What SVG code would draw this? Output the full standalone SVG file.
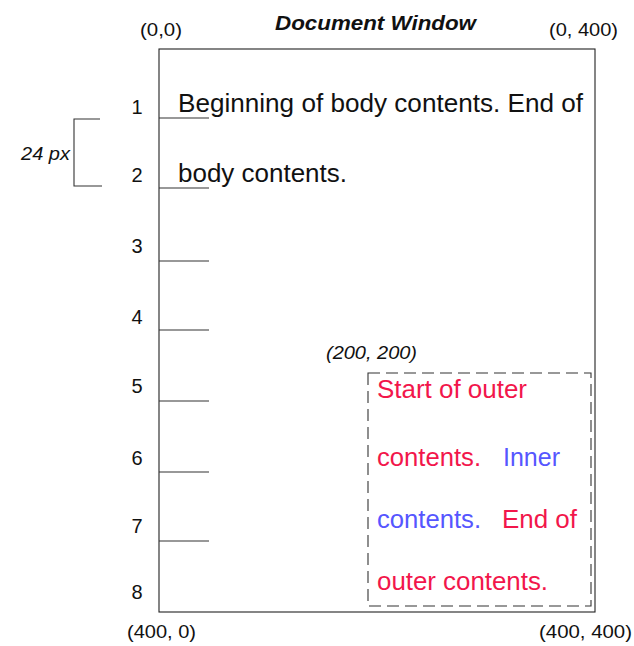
<svg xmlns="http://www.w3.org/2000/svg" width="634" height="646" viewBox="0 0 634 646">
  <style>
    text { font-family: "Liberation Sans", Arial, Helvetica, sans-serif; fill: #111; }
    .coord { font-size: 18px; }
    .coord-i { font-size: 18px; font-style: italic; }
    .title { font-size: 20px; font-weight: bold; font-style: italic; }
    .num { font-size: 20px; text-anchor: middle; }
    .body { font-size: 25px; }
    .outer { font-size: 25px; fill: #f2164b; }
    .inner { font-size: 25px; fill: #5656ff; }
    .frame { fill: #fff; stroke: #222; stroke-width: 1.1; }
    .tick { stroke: #333; stroke-width: 1.1; }
    .dash { fill: none; stroke: #333; stroke-width: 1.1; stroke-dasharray: 12 6; }
  </style>
  <rect width="634" height="646" fill="#fff"/>

  <!-- window frame and its corner coordinates -->
  <g id="window">
    <rect class="frame" x="159" y="49" width="436" height="563"/>
    <text class="title" x="275" y="30" textLength="201" lengthAdjust="spacingAndGlyphs">Document Window</text>
    <text class="coord" x="140" y="36" textLength="42" lengthAdjust="spacingAndGlyphs">(0,0)</text>
    <text class="coord" x="549" y="36" textLength="69" lengthAdjust="spacingAndGlyphs">(0, 400)</text>
    <text class="coord" x="127" y="638" textLength="69" lengthAdjust="spacingAndGlyphs">(400, 0)</text>
    <text class="coord" x="539" y="638" textLength="93" lengthAdjust="spacingAndGlyphs">(400, 400)</text>
  </g>

  <!-- line numbers and line ticks -->
  <g id="lines">
    <text class="num" x="137" y="114">1</text>
    <text class="num" x="137" y="182">2</text>
    <text class="num" x="137" y="253">3</text>
    <text class="num" x="137" y="324">4</text>
    <text class="num" x="137" y="393">5</text>
    <text class="num" x="137" y="465">6</text>
    <text class="num" x="137" y="533">7</text>
    <text class="num" x="137" y="599">8</text>
    <line class="tick" x1="159" y1="118" x2="209" y2="118"/>
    <line class="tick" x1="159" y1="188" x2="209" y2="188"/>
    <line class="tick" x1="159" y1="261" x2="209" y2="261"/>
    <line class="tick" x1="159" y1="330" x2="209" y2="330"/>
    <line class="tick" x1="159" y1="401" x2="209" y2="401"/>
    <line class="tick" x1="159" y1="472" x2="209" y2="472"/>
    <line class="tick" x1="159" y1="541" x2="209" y2="541"/>
  </g>

  <!-- line height bracket -->
  <g id="line-height">
    <path class="tick" fill="none" d="M100 119 H74 V186 H102"/>
    <text class="coord-i" x="21" y="160" textLength="49" lengthAdjust="spacingAndGlyphs">24 px</text>
  </g>

  <!-- body text -->
  <g id="body">
    <text class="body" x="178" y="112" textLength="405" lengthAdjust="spacingAndGlyphs">Beginning of body contents. End of</text>
    <text class="body" x="178" y="182" textLength="169" lengthAdjust="spacingAndGlyphs">body contents.</text>
  </g>

  <!-- positioned outer box with inline inner content -->
  <g id="outer-box">
    <rect class="dash" x="368" y="373" width="223" height="233"/>
    <text class="coord-i" x="326" y="359" textLength="91" lengthAdjust="spacingAndGlyphs">(200, 200)</text>
    <text class="outer" x="377" y="398" textLength="150" lengthAdjust="spacingAndGlyphs">Start of outer</text>
    <text class="outer" x="377" y="466" textLength="104" lengthAdjust="spacingAndGlyphs">contents.</text>
    <text class="inner" x="503" y="466" textLength="57" lengthAdjust="spacingAndGlyphs">Inner</text>
    <text class="inner" x="377" y="528" textLength="104" lengthAdjust="spacingAndGlyphs">contents.</text>
    <text class="outer" x="502" y="528" textLength="75" lengthAdjust="spacingAndGlyphs">End of</text>
    <text class="outer" x="377" y="590" textLength="171" lengthAdjust="spacingAndGlyphs">outer contents.</text>
  </g>
</svg>
